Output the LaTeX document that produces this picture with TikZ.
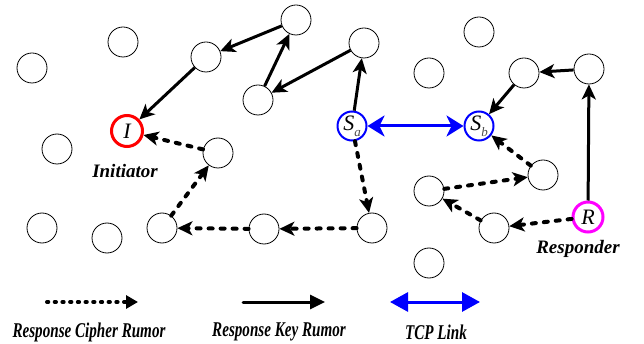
\documentclass[tikz,border=0pt]{standalone}
\usepackage{fontspec}
\setmainfont{Liberation Serif}
\usetikzlibrary{arrows.meta}
\definecolor{peerred}{RGB}{255,0,0}
\definecolor{peerblue}{RGB}{0,0,255}
\definecolor{peermag}{RGB}{255,0,255}
\begin{document}
\begin{tikzpicture}[x=1pt,y=-1pt,
  peer/.style={circle,draw,line width=0.8pt,minimum size=30pt,inner sep=0pt},
  special/.style={circle,draw,inner sep=0pt,font=\fontsize{22}{22}\selectfont\itshape},
  keyarrow/.style={line width=3pt,-{Stealth[length=15pt,width=14pt,inset=4pt]}},
  cipherarrow/.style={line width=4pt,dash pattern=on 4pt off 8pt,line cap=round,-{Stealth[length=15pt,width=14pt,inset=4pt]}},
  tcparrow/.style={line width=3pt,draw=peerblue,{Stealth[length=17pt,width=21pt,inset=5pt]}-{Stealth[length=17pt,width=21pt,inset=5pt]}},
  rolelabel/.style={font=\fontsize{19}{19}\selectfont\bfseries\itshape},
  legendlabel/.style={font=\fontsize{21}{21}\selectfont\bfseries\itshape,inner sep=0pt}
]
\useasboundingbox (0,0) rectangle (644,344);
% plain peers
\node[peer] (a1) at (123,42) {};
\node[peer] (a2) at (32,68) {};
\node[peer] (a3) at (57,149) {};
\node[peer] (a4) at (42,228) {};
\node[peer] (a5) at (107,238) {};
\node[peer] (a6) at (479,32) {};
\node[peer] (a7) at (429,73) {};
\node[peer] (a8) at (429,263) {};
% route peers
\node[peer] (k1) at (206,57) {};
\node[peer] (k2) at (296,20) {};
\node[peer] (k3) at (258,100) {};
\node[peer] (k4) at (364,43) {};
\node[peer] (k5) at (589,69) {};
\node[peer] (k6) at (524,73) {};
\node[peer] (c1) at (218,153) {};
\node[peer] (c2) at (162,228) {};
\node[peer] (c3) at (264,229) {};
\node[peer] (c4) at (372,228) {};
\node[peer] (c5) at (543,175) {};
\node[peer] (c6) at (429,191) {};
\node[peer] (c7) at (494,228) {};
% special nodes
\node[special,draw=peerred,line width=3pt,minimum size=31pt] (I) at (127,131) {I};
\node[special,draw=peerblue,line width=2pt,minimum size=29pt] (Sa) at (352,126) {S\raisebox{-6pt}{\fontsize{13}{13}\selectfont\color{black!70}a}};
\node[special,draw=peerblue,line width=2pt,minimum size=29pt] (Sb) at (479,126) {S\raisebox{-6pt}{\fontsize{13}{13}\selectfont\color{black!70}b}};
\node[special,draw=peermag,line width=3pt,minimum size=30pt] (R) at (588,217) {R};
% labels
\node[rolelabel] (li) at (125,171) {Initiator};
\node[rolelabel] (lr) at (578,249) {Responder};
% key rumor
\draw[keyarrow] (k2) -- (k1);
\draw[keyarrow] (k1) -- (I);
\draw[keyarrow] (k3) -- (k2);
\draw[keyarrow] (k4) -- (k3);
\draw[keyarrow] (Sa) -- (k4);
\draw[keyarrow] (R) -- (k5);
\draw[keyarrow] (k5) -- (k6);
\draw[keyarrow] (k6) -- (Sb);
% cipher rumor
\draw[cipherarrow] (Sa) -- (c4);
\draw[cipherarrow] (c4) -- (c3);
\draw[cipherarrow] (c3) -- (c2);
\draw[cipherarrow] (c2) -- (c1);
\draw[cipherarrow] (c1) -- (I);
\draw[cipherarrow] (R) -- (c7);
\draw[cipherarrow] (c7) -- (c6);
\draw[cipherarrow] (c6) -- (c5);
\draw[cipherarrow] (c5) -- (Sb);
% tcp
\draw[tcparrow] (Sa) -- (Sb);
% legend
\coordinate (d1) at (47,302); \coordinate (d2) at (138,302);
\coordinate (s1) at (243,302); \coordinate (s2) at (325,302);
\coordinate (t1) at (390,302); \coordinate (t2) at (480,302);
\draw[line width=4pt,dash pattern=on 1.3pt off 6.4pt,line cap=round,-{Triangle[length=12pt,width=13pt]}] (d1) -- (d2);
\draw[line width=3pt,line cap=round,-{Triangle[length=15pt,width=14pt]}] (s1) -- (s2);
\draw[line width=3pt,peerblue,{Triangle[length=18pt,width=19pt]}-{Triangle[length=18pt,width=19pt]}] (t1) -- (t2);
\node[legendlabel] (l1) at (89,332) {\scalebox{0.72}[1]{Response Cipher Rumor}};
\node[legendlabel,anchor=west] (l2) at (212,332) {\scalebox{0.72}[1]{Response Key Rumor}};
\node[legendlabel] (l3) at (436,332) {\scalebox{0.72}[1]{TCP Link}};
\end{tikzpicture}
\end{document}
